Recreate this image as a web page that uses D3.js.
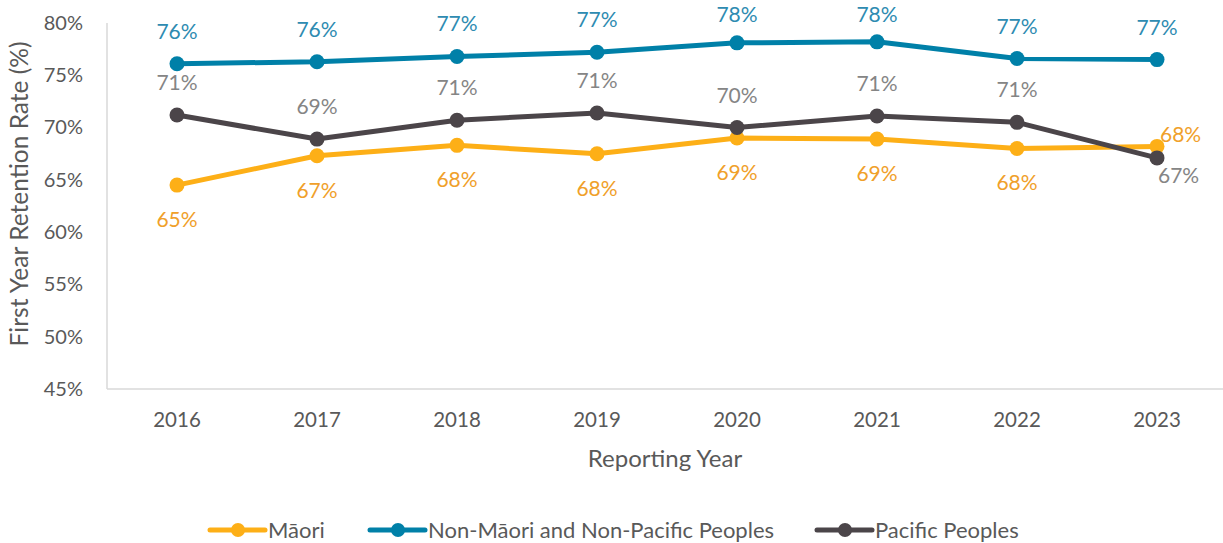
<!DOCTYPE html>
<html><head><meta charset="utf-8">
<script src="https://cdn.jsdelivr.net/npm/d3@7"></script>
<style>body{margin:0;background:#fff;font-family:Lato,"Open Sans",sans-serif;}</style>
</head><body><svg id="c" width="1223" height="543"></svg>
<script>
const years = ["2016","2017","2018","2019","2020","2021","2022","2023"];
const yTicks = [45,50,55,60,65,70,75,80];
const maori = [64.5,67.3,68.3,67.5,69.0,68.9,68.0,68.2];
const nonMaoriPacific = [76.1,76.3,76.8,77.2,78.1,78.2,76.6,76.5];
const pacific = [71.2,68.9,70.7,71.4,70.0,71.1,70.5,67.1];
const seriesNames = ["Māori","Non-Māori and Non-Pacific Peoples","Pacific Peoples"];

const svg = d3.select("#c");
const x = d3.scaleBand().domain(years).range([107,1227]);
const y = d3.scaleLinear().domain([45,80]).range([389,23]);
const cx = d => x(d) + x.bandwidth()/2;
const F = "Lato,sans-serif";

const series = [
  {name:seriesNames[0], vals:maori, line:"#FDAF17", text:"#F0A02A"},
  {name:seriesNames[1], vals:nonMaoriPacific, line:"#0080A8", text:"#2E8BB1"},
  {name:seriesNames[2], vals:pacific, line:"#4B4549", text:"#858585"}
];

svg.append("line").attr("x1",107).attr("x2",107).attr("y1",23).attr("y2",389).attr("stroke","#d9d9d9").attr("stroke-width",1.5);
svg.append("line").attr("x1",107).attr("x2",1223).attr("y1",389).attr("y2",389).attr("stroke","#d9d9d9").attr("stroke-width",1.5);

const yAxis = svg.append("g").attr("transform","translate(107,0)")
  .call(d3.axisLeft(y).tickValues(yTicks).tickSize(0).tickPadding(24).tickFormat(d=>d+"%"));
yAxis.select(".domain").remove();
yAxis.selectAll("text").attr("font-family",F).attr("font-size",20).attr("fill","#595959");

const xAxis = svg.append("g").attr("transform","translate(0,389)")
  .call(d3.axisBottom(x).tickSize(0).tickPadding(23));
xAxis.select(".domain").remove();
xAxis.selectAll("text").attr("font-family",F).attr("font-size",20.5).attr("fill","#595959");

svg.append("text").attr("x",665).attr("y",467).attr("text-anchor","middle")
  .attr("font-family",F).attr("font-size",24).attr("fill","#595959").text("Reporting Year");
svg.append("text").attr("transform","translate(28,194) rotate(-90)").attr("text-anchor","middle")
  .attr("font-family",F).attr("font-size",24.5).attr("fill","#595959").text("First Year Retention Rate (%)");

const line = d3.line().x((d,i)=>cx(years[i])).y(d=>y(d));
series.forEach(s=>{
  svg.append("path").datum(s.vals).attr("d",line).attr("fill","none").attr("stroke",s.line).attr("stroke-width",5).attr("stroke-linejoin","round");
  svg.selectAll(null).data(s.vals).enter().append("circle")
    .attr("cx",(d,i)=>cx(years[i])).attr("cy",d=>y(d)).attr("r",7.5).attr("fill",s.line);
});

function lbl(s, i, dx, dy, anchor){
  const by = Math.max(22, y(s.vals[i])+dy);
  svg.append("text").attr("x",cx(years[i])+dx).attr("y",by).attr("text-anchor",anchor)
    .attr("font-family",F).attr("font-size",21).attr("fill",s.text)
    .text(Math.round(s.vals[i])+"%");
}
years.forEach((yr,i)=>{
  lbl(series[1], i, 0, -25, "middle");
  if(i<7){ lbl(series[2], i, 0, -25, "middle"); lbl(series[0], i, 0, 42, "middle"); }
  else { lbl(series[0], i, 3, -4, "start"); lbl(series[2], i, 1, 25, "start"); }
});

const leg = [{s:series[0],x:210},{s:series[1],x:370},{s:series[2],x:817}];
leg.forEach(l=>{
  svg.append("line").attr("x1",l.x).attr("x2",l.x+55).attr("y1",530).attr("y2",530).attr("stroke",l.s.line).attr("stroke-width",5).attr("stroke-linecap","round");
  svg.append("circle").attr("cx",l.x+28).attr("cy",530).attr("r",7).attr("fill",l.s.line);
  svg.append("text").attr("x",l.x+58).attr("y",538).attr("font-family",F).attr("font-size",22).attr("fill","#595959").text(l.s.name);
});
</script></body></html>
